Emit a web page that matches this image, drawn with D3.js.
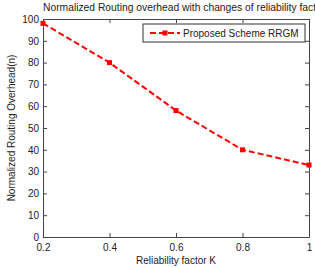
<!DOCTYPE html>
<html>
<head>
<meta charset="utf-8">
<script src="https://cdn.jsdelivr.net/npm/d3@7"></script>
<style>
  body { margin: 0; background: #fff; }
  svg { display: block; }
  text { font-family: "Liberation Sans", Arial, sans-serif; fill: #222; }
</style>
</head>
<body>
<svg width="315" height="268"></svg>
<script>
let kValues = [0.2, 0.4, 0.6, 0.8, 1];
let overhead = [98, 80, 58, 40, 33];
let xTicks = [0.2, 0.4, 0.6, 0.8, 1];
let yTicks = [0, 10, 20, 30, 40, 50, 60, 70, 80, 90, 100];
let seriesName = "Proposed Scheme RRGM";

let svg = d3.select("svg");
let m = { left: 43, right: 309, top: 19, bottom: 237 };

let x = d3.scaleLinear().domain([0.2, 1]).range([m.left, m.right]);
let y = d3.scaleLinear().domain([0, 100]).range([m.bottom, m.top]);

// axes, ticks pointing inwards like matlab
let axisColor = "#444";
function styleAxis(g) {
  g.selectAll("path, line").attr("stroke", axisColor);
  g.selectAll("text").attr("font-size", 10).attr("fill", "#222");
}

svg.append("g")
  .attr("transform", `translate(0,${m.bottom})`)
  .call(d3.axisBottom(x).tickValues(xTicks).tickSizeInner(-4).tickSizeOuter(0).tickPadding(7).tickFormat(d3.format("")))
  .call(styleAxis);

svg.append("g")
  .attr("transform", `translate(0,${m.top})`)
  .call(d3.axisTop(x).tickValues(xTicks).tickSizeInner(-4).tickSizeOuter(0).tickFormat(""))
  .call(styleAxis);

svg.append("g")
  .attr("transform", `translate(${m.left},0)`)
  .call(d3.axisLeft(y).tickValues(yTicks).tickSizeInner(-4).tickSizeOuter(0).tickPadding(4))
  .call(styleAxis);

svg.append("g")
  .attr("transform", `translate(${m.right},0)`)
  .call(d3.axisRight(y).tickValues(yTicks).tickSizeInner(-4).tickSizeOuter(0).tickFormat(""))
  .call(styleAxis);

// title runs past the right edge in the original too
svg.append("text")
  .attr("x", m.left)
  .attr("y", 11)
  .attr("font-size", 10.3)
  .text("Normalized Routing overhead with changes of reliability factor");

svg.append("text")
  .attr("x", (m.left + m.right) / 2)
  .attr("y", 264)
  .attr("text-anchor", "middle")
  .attr("font-size", 10)
  .text("Reliability factor K");

svg.append("text")
  .attr("transform", `translate(15,${(m.top + m.bottom) / 2}) rotate(-90)`)
  .attr("text-anchor", "middle")
  .attr("font-size", 10)
  .text("Normalized Routing Overhead(n)");

// series
let line = d3.line()
  .x((d, i) => x(kValues[i]))
  .y(d => y(d));

svg.append("path")
  .datum(overhead)
  .attr("fill", "none")
  .attr("stroke", "#ff0000")
  .attr("stroke-width", 2)
  .attr("stroke-dasharray", "6,3")
  .attr("d", line);

svg.append("g")
  .selectAll("rect")
  .data(overhead)
  .enter().append("rect")
    .attr("x", (d, i) => x(kValues[i]) - 2.5)
    .attr("y", d => y(d) - 2.5)
    .attr("width", 5)
    .attr("height", 5)
    .attr("fill", "#ff0000");

// legend
let lg = svg.append("g").attr("transform", "translate(143,24)");
lg.append("rect")
  .attr("width", 162).attr("height", 18)
  .attr("fill", "#fff").attr("stroke", "#333").attr("stroke-width", 1);
lg.append("line")
  .attr("x1", 7).attr("x2", 37).attr("y1", 9).attr("y2", 9)
  .attr("stroke", "#ff0000").attr("stroke-width", 2).attr("stroke-dasharray", "6,3");
lg.append("rect")
  .attr("x", 19.5).attr("y", 6.5).attr("width", 5).attr("height", 5)
  .attr("fill", "#ff0000");
lg.append("text")
  .attr("x", 40).attr("y", 13)
  .attr("font-size", 10)
  .text(seriesName);
</script>
</body>
</html>
